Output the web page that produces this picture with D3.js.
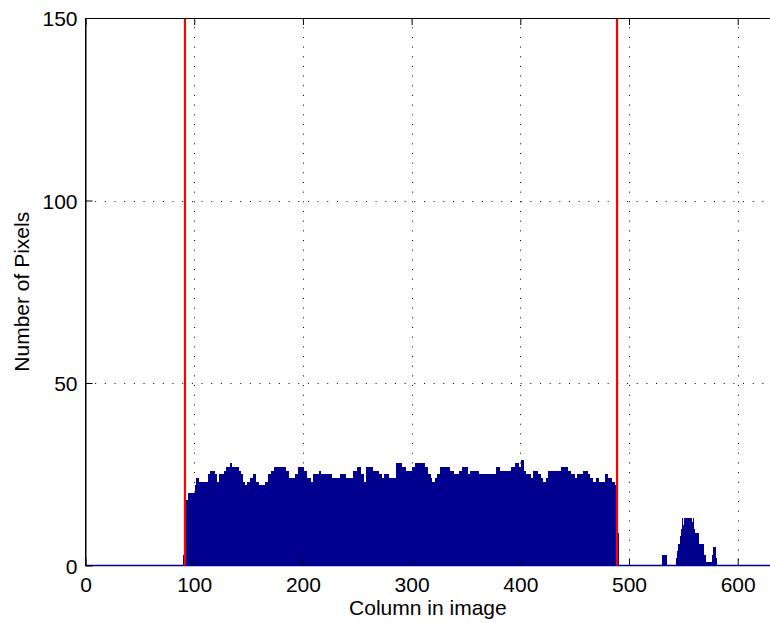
<!DOCTYPE html>
<html><head><meta charset="utf-8">
<script src="https://cdn.jsdelivr.net/npm/d3@7"></script>
<style>html,body{margin:0;padding:0;background:#fff}svg{display:block}</style>
</head><body>
<svg id="chart" width="770" height="623"></svg>
<script>
// ---- data: pixel count per image column ----
const mainStart = 90;
const mainCounts = [
  3,3,18,18,18,20,20,20,20,20,20,22,24,24,                      // 90
  23,23,23,23,23,23,23,23,23,25,25,26,26,26,26,25,25,23,23,       // 104
  25,25,25,25,25,26,26,27,27,27,28,28,27,27,27,27,27,27,          // 123
  26,26,25,25,23,23,22,22,23,23,23,24,24,24,25,25,23,23,23,       // 141
  22,22,22,22,22,22,23,23,25,25,25,26,26,26,                      // 160
  27,27,27,27,27,27,27,27,27,27,26,26,26,                         // 174
  24,24,24,24,24,24,25,25,25,27,27,27,27,27,26,26,26,             // 187
  24,24,24,23,23,23,25,25,25,25,25,26,26,                         // 204
  25,25,25,25,25,25,25,25,25,25,24,24,24,24,24,24,24,24,          // 217
  25,25,25,25,25,24,24,24,24,24,24,24,26,26,26,27,27,27,          // 235
  25,25,25,23,23,23,27,27,27,27,27,26,26,26,26,26,26,             // 253
  25,25,25,24,24,25,25,25,25,24,24,24,24,24,24,24,                // 270
  28,28,28,28,28,27,27,27,27,26,26,26,26,26,26,27,27,27,          // 286
  28,28,28,28,28,28,28,28,27,27,27,25,25,25,24,23,23,23,24,24,    // 304
  25,25,25,27,27,27,27,27,27,27,27,26,26,26,26,                   // 324
  25,25,25,25,25,26,26,26,27,27,27,27,27,25,25,                   // 339
  26,26,26,26,26,26,26,26,                                        // 354
  25,25,25,25,25,25,25,25,25,25,25,25,25,25,25,25,                // 362
  27,27,27,26,26,26,26,26,26,26,26,26,26,26,                      // 378
  27,27,27,27,28,28,28,27,27,29,29,26,26,                         // 392
  25,25,25,25,25,24,24,26,26,26,26,25,25,25,24,24,23,23,23,24,24, // 405
  26,26,26,26,26,26,26,26,26,26,26,26,27,27,27,27,27,27,          // 426
  26,26,26,25,25,25,24,24,24,25,25,25,25,25,26,26,26,26,25,25,    // 444
  24,24,24,23,23,23,24,24,23,23,23,23,23,23,                      // 464
  25,25,25,24,24,24,23,23,23,22,20,18,9                           // 478
];
const blipStart = 531;
const blipCounts = [3,3,3,3];
const clusterStart = 544;
const clusterCounts = [2,4,6,8,10,13,11,13,12,13,12,13,11,13,12,13,10,9,9,9,6,6,6,6,6,3,3,1,1,1,1,1,1,3,5,5,2];

const markerColumns = [91.5, 489];
const xTicks = [0, 100, 200, 300, 400, 500, 600];
const yTicks = [0, 50, 100, 150];
const xDomain = [0, 630];
const yDomain = [0, 150];
const xLabel = "Column in image";
const yLabel = "Number of Pixels";

// ---- build records ----
const bars = [];
[[mainStart, mainCounts], [blipStart, blipCounts], [clusterStart, clusterCounts]].forEach(([s, arr]) => {
  arr.forEach((v, i) => { if (v > 0) bars.push({col: s + i, n: v}); });
});

const svg = d3.select("#chart");
const font = "'Liberation Sans', Arial, Helvetica, sans-serif";
const L = 85.5, R = 770.3, T = 18, B = 565.5;
const x = d3.scaleLinear().domain(xDomain).range([L, R]);
const y = d3.scaleLinear().domain(yDomain).range([B, T]);

svg.append("rect").attr("width", 770).attr("height", 623).attr("fill", "#fff");

// grid (behind data)
const grid = svg.append("g").attr("stroke", "#000").attr("stroke-width", 1).attr("stroke-dasharray", "1,8.67");
grid.selectAll("line.v").data(xTicks.filter(t => t > xDomain[0])).join("line")
  .attr("x1", d => Math.round(x(d)) + 0.5).attr("x2", d => Math.round(x(d)) + 0.5)
  .attr("y1", y(yDomain[1])).attr("y2", y(0)).attr("stroke-dashoffset", 0.4);
grid.selectAll("line.h").data(yTicks.filter(t => t > yDomain[0] && t < yDomain[1])).join("line")
  .attr("x1", x(xDomain[0])).attr("x2", x(xDomain[1]))
  .attr("y1", d => Math.round(y(d)) + 0.5).attr("y2", d => Math.round(y(d)) + 0.5);

// bars
const barColor = "#00008F";
svg.append("g").attr("shape-rendering", "crispEdges").selectAll("rect").data(bars).join("rect")
  .attr("x", d => x(d.col - 0.5))
  .attr("width", d => x(d.col + 0.5) - x(d.col - 0.5) + 0.6)
  .attr("y", d => y(d.n))
  .attr("height", d => y(0) - y(d.n))
  .attr("fill", barColor);

// zero-height bars baseline
svg.append("line").attr("x1", x(xDomain[0])).attr("x2", x(xDomain[1]))
  .attr("y1", y(0)).attr("y2", y(0)).attr("stroke", barColor).attr("stroke-width", 1.5);

// marker lines
svg.append("g").selectAll("line").data(markerColumns).join("line")
  .attr("x1", d => x(d)).attr("x2", d => x(d))
  .attr("y1", y(yDomain[1])).attr("y2", y(0))
  .attr("stroke", "#FF0000").attr("stroke-width", 2.2);

// axes box
const box = svg.append("g").attr("stroke", "#000").attr("stroke-width", 1).attr("shape-rendering", "crispEdges");
box.append("line").attr("x1", L).attr("x2", R).attr("y1", T).attr("y2", T);
box.append("line").attr("x1", L).attr("x2", L).attr("y1", T).attr("y2", B);
box.append("line").attr("x1", R).attr("x2", R).attr("y1", T).attr("y2", B);

// axes with inward ticks
const xAxis = svg.append("g").attr("transform", `translate(0,${B})`)
  .call(d3.axisBottom(x).tickValues(xTicks).tickFormat(d3.format("d")).tickSizeInner(-7).tickSizeOuter(0).tickPadding(12));
const xTop = svg.append("g").attr("transform", `translate(0,${T})`)
  .call(d3.axisTop(x).tickValues(xTicks).tickFormat("").tickSizeInner(-7).tickSizeOuter(0));
const yAxis = svg.append("g").attr("transform", `translate(${L},0)`)
  .call(d3.axisLeft(y).tickValues(yTicks).tickFormat(d3.format("d")).tickSizeInner(-7).tickSizeOuter(0).tickPadding(8));
[xAxis, xTop, yAxis].forEach(g => {
  g.select(".domain").attr("stroke", "#000");
  g.selectAll(".tick line").attr("stroke", "#000");
  g.selectAll("text").attr("font-family", font).attr("font-size", 21).attr("fill", "#000");
});
xAxis.select(".domain").remove();
yAxis.selectAll("text").attr("dy", "0.36em");

// axis labels
svg.append("text").attr("x", (L + R) / 2).attr("y", 615)
  .attr("text-anchor", "middle").attr("font-family", font).attr("font-size", 21).text(xLabel);
svg.append("text").attr("transform", `translate(28.5,${(T + B) / 2}) rotate(-90)`)
  .attr("text-anchor", "middle").attr("font-family", font).attr("font-size", 21).text(yLabel);
</script>
</body></html>
